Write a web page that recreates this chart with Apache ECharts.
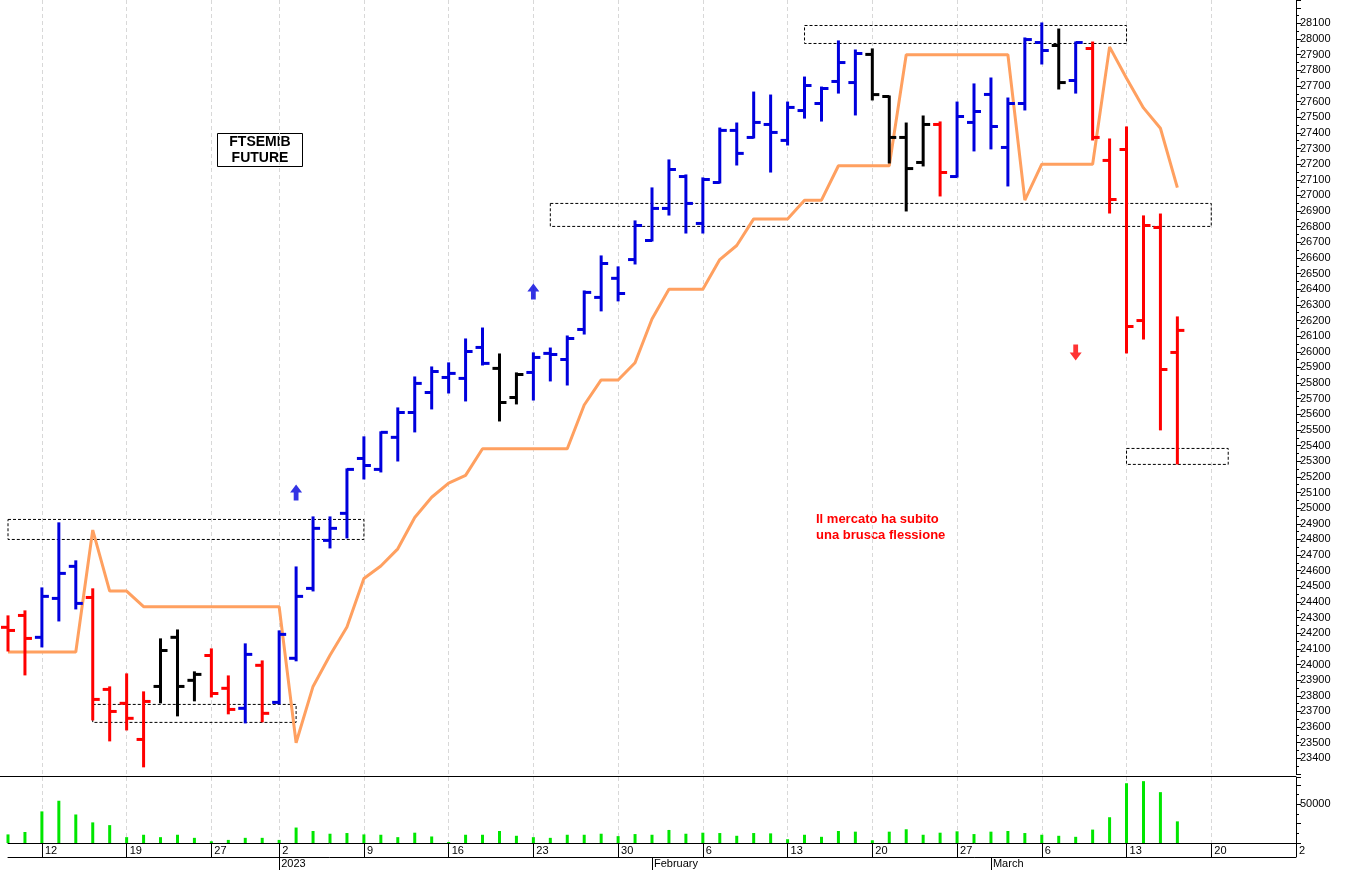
<!DOCTYPE html>
<html>
<head>
<meta charset="utf-8">
<script src="https://cdn.jsdelivr.net/npm/echarts@6/dist/echarts.min.js"></script>
<style>html,body{margin:0;padding:0;background:#fff}#chart{width:1352px;height:870px}</style>
</head>
<body>
<div id="chart"></div>
<script>
var dates = ['12-08','12-09','12-12','12-13','12-14','12-15','12-16','12-19','12-20','12-21','12-22','12-23','12-27','12-28','12-29','12-30',
  '01-02','01-03','01-04','01-05','01-06','01-09','01-10','01-11','01-12','01-13','01-16','01-17','01-18','01-19','01-20','01-23','01-24','01-25','01-26','01-27','01-30','01-31',
  '02-01','02-02','02-03','02-06','02-07','02-08','02-09','02-10','02-13','02-14','02-15','02-16','02-17','02-20','02-21','02-22','02-23','02-24','02-27','02-28',
  '03-01','03-02','03-03','03-06','03-07','03-08','03-09','03-10','03-13','03-14','03-15','03-16','03-17','03-20','03-21','03-22','03-23','03-24','03-27'];
var weekLabels = {'12-12':'12','12-19':'19','12-27':'27','01-02':'2','01-09':'9','01-16':'16','01-23':'23','01-30':'30',
  '02-06':'6','02-13':'13','02-20':'20','02-27':'27','03-06':'6','03-13':'13','03-20':'20','03-27':'2'};
var monthLabels = {'01-02':'2023','02-01':'February','03-01':'March'};

var opens  = [24238,24314,24174,24423,24628,24429,23841,23752,23521,23860,24174,23899,24058,23848,23720,23995,23758,24040,24487,24794,24967,25318,25248,25453,25612,25740,25836,25830,26028,25894,25708,25868,25990,25951,26143,26348,26470,26590,26712,26917,27121,26821,27083,27416,27371,27454,27352,27543,27588,27729,27722,27902,27633,27371,27211,27454,27121,27467,27646,27307,27588,27978,27959,27735,27940,27224,27294,26200,26795,25996];
var highs  = [24308,24340,24487,24903,24660,24481,23854,23937,23822,24161,24218,23950,24097,23924,24129,24020,24212,24621,24941,24941,25248,25453,25485,25638,25836,25900,25926,26079,26149,25983,25862,25990,26021,26098,26386,26610,26540,26834,27045,27224,27128,27109,27428,27460,27658,27639,27594,27754,27690,27985,27927,27934,27633,27460,27505,27467,27594,27710,27748,27620,28004,28100,28061,27978,27978,27358,27435,26866,26878,26220];
var lows   = [24090,23937,24116,24282,24359,23649,23515,23585,23349,23758,23675,23771,23796,23688,23630,23637,23752,24027,24474,24749,24813,25190,25235,25305,25491,25638,25740,25689,25919,25561,25670,25695,25817,25791,26117,26265,26329,26565,26712,26878,26763,26763,27083,27198,27371,27153,27326,27498,27479,27658,27518,27614,27211,26904,27192,27000,27121,27288,27301,27064,27550,27844,27684,27658,27358,26891,25996,26085,25504,25286];
var closes = [24218,24167,24436,24583,24391,23777,23700,23656,23764,24090,23860,23937,23815,23713,24065,23688,24193,24436,24871,24871,25248,25273,25485,25612,25798,25874,25862,26002,25926,25676,25855,25964,25983,26085,26380,26565,26373,26808,26917,27166,26949,27102,27416,27269,27467,27403,27563,27703,27684,27850,27908,27645,27371,27172,27454,27147,27505,27537,27441,27588,27997,27927,27722,27978,27371,26974,26162,26808,25887,26137];
var barColors = 'rrbbbrrrrkkkrrbrbbbbbbbbbbbbbkkbbbbbbbbbbbbbbbbbbbbkkkkrbbbbbbkbrrrrrr';
var stopLine = [24080,24080,24080,24080,24080,24860,24470,24470,24370,24370,24370,24370,24370,24370,24370,24370,24370,23500,23860,24060,24240,24550,24630,24740,24940,25070,25160,25210,25380,25380,25380,25380,25380,25380,25660,25820,25820,25930,26210,26400,26400,26400,26590,26680,26850,26850,26850,26970,26970,27190,27190,27190,27190,27900,27900,27900,27900,27900,27900,27900,26970,27200,27200,27200,27200,27950,27750,27560,27430,27050];
var volumes = [11062,14159,40708,54425,36726,26549,23009,7522,10619,7522,10619,6637,2212,3982,6637,6637,3982,19912,15487,11947,12832,11062,10619,7522,13274,8407,1327,10619,10619,15487,9292,7522,6637,10619,10619,11947,8850,11504,10619,16814,11947,13274,12832,9292,12832,12389,4867,10619,7965,15487,14602,3540,14602,17699,10619,13274,15044,11504,14602,15487,12832,10619,9292,7965,17257,33186,76991,79646,65487,27876];
var upArrows = [[17, 25100], [31, 26386]];
var downArrows = [[63, 25996]];

var colorMap = {r: '#ff0000', b: '#0000dd', k: '#000000'};
var ohlc = opens.map(function (o, i) { return [i, o, highs[i], lows[i], closes[i]]; });
var weekTick = function (i) { return !!weekLabels[dates[i]]; };
var monthTick = function (i) { return !!monthLabels[dates[i]]; };
var arrowPath = 'path://M5,0 L10,6 L7,6 L7,12 L3,12 L3,6 L0,6 Z';
var boxStyle = {color: 'rgba(0,0,0,0)', borderColor: '#000', borderWidth: 1, borderType: [3, 2]};
var font = '"Liberation Sans", Arial, sans-serif';

var myChart = echarts.init(document.getElementById('chart'));
var option = {
    animation: false,
    grid: [
        {left: 8, right: 56, top: 0, height: 774, show: false},
        {left: 8, right: 56, top: 777, bottom: 27, show: false}
    ],
    xAxis: [
        {gridIndex: 0, type: 'category', data: dates, boundaryGap: false, axisLine: {show: false}, axisTick: {show: false}, axisLabel: {show: false},
         splitLine: {show: true, interval: weekTick, lineStyle: {color: '#d8d8d8', type: [4, 3]}}},
        {gridIndex: 1, type: 'category', data: dates, boundaryGap: false, axisLine: {lineStyle: {color: '#000'}},
         axisTick: {show: true, interval: weekTick, length: 14, lineStyle: {color: '#000'}},
         splitLine: {show: true, interval: weekTick, lineStyle: {color: '#d8d8d8', type: [4, 3]}},
         axisLabel: {interval: weekTick, formatter: function (v) { return weekLabels[v] || ''; }, align: 'left', padding: [0, 0, 0, 3], margin: 2, fontSize: 11, color: '#000', fontFamily: font}},
        {gridIndex: 1, type: 'category', data: dates, boundaryGap: false, position: 'bottom', offset: 14, axisLine: {lineStyle: {color: '#000'}},
         axisTick: {show: true, interval: monthTick, length: 14, lineStyle: {color: '#000'}},
         axisLabel: {interval: monthTick, formatter: function (v) { return monthLabels[v] || ''; }, align: 'left', padding: [0, 0, 0, 2], margin: 1, fontSize: 11, color: '#000', fontFamily: font}}
    ],
    yAxis: [
        {gridIndex: 0, type: 'value', position: 'right', min: 23300, max: 28250, interval: 100,
         axisLine: {show: true, lineStyle: {color: '#000'}}, axisTick: {show: true, length: 5, lineStyle: {color: '#000'}},
         minorTick: {show: true, splitNumber: 2, length: 3, lineStyle: {color: '#000'}},
         splitLine: {show: false},
         axisLabel: {showMinLabel: false, formatter: function (v) { return v > 28100 ? '' : String(v); }, fontSize: 11, color: '#000', margin: 4, fontFamily: font}},
        {gridIndex: 1, type: 'value', position: 'right', min: 0, max: 85000, interval: 25000,
         axisLine: {show: true, lineStyle: {color: '#000'}}, axisTick: {show: true, length: 5, lineStyle: {color: '#000'}},
         minorTick: {show: true, splitNumber: 2, length: 3, lineStyle: {color: '#000'}},
         splitLine: {show: false},
         axisLabel: {formatter: function (v) { return v === 50000 ? '50000' : ''; }, fontSize: 11, color: '#000', margin: 4, fontFamily: font}}
    ],
    series: [
        {
            type: 'line', xAxisIndex: 0, yAxisIndex: 0, data: stopLine, symbol: 'none', z: 2,
            lineStyle: {color: '#ffa060', width: 3},
            markArea: {silent: true, itemStyle: boxStyle, data: [
                [{xAxis: 0, yAxis: 24928}, {xAxis: '01-09', yAxis: 24800}],
                [{xAxis: '12-15', yAxis: 23745}, {xAxis: '01-03', yAxis: 23630}],
                [{xAxis: '02-14', yAxis: 28087}, {xAxis: '03-13', yAxis: 27972}],
                [{xAxis: '01-24', yAxis: 26949}, {xAxis: '03-20', yAxis: 26802}],
                [{xAxis: '03-13', yAxis: 25382}, {xAxis: '03-21', yAxis: 25280}]
            ]}
        },
        {
            type: 'custom', xAxisIndex: 0, yAxisIndex: 0, data: ohlc, z: 5,
            renderItem: function (params, api) {
                var i = api.value(0);
                var pH = api.coord([i, api.value(2)]);
                var pL = api.coord([i, api.value(3)]);
                var pO = api.coord([i, api.value(1)]);
                var pC = api.coord([i, api.value(4)]);
                var st = {stroke: colorMap[barColors[params.dataIndex]], lineWidth: 3};
                return {type: 'group', children: [
                    {type: 'line', shape: {x1: pH[0], y1: pH[1] - 1, x2: pL[0], y2: pL[1] + 1}, style: st},
                    {type: 'line', shape: {x1: pO[0] - 7, y1: pO[1], x2: pO[0], y2: pO[1]}, style: st},
                    {type: 'line', shape: {x1: pC[0], y1: pC[1], x2: pC[0] + 7, y2: pC[1]}, style: st}
                ]};
            }
        },
        {type: 'scatter', xAxisIndex: 0, yAxisIndex: 0, data: upArrows, symbol: arrowPath, symbolSize: [12, 16], itemStyle: {color: '#0000dd'}},
        {type: 'scatter', xAxisIndex: 0, yAxisIndex: 0, data: downArrows, symbol: arrowPath, symbolRotate: 180, symbolSize: [12, 16], itemStyle: {color: '#ff0000'}},
        {type: 'bar', xAxisIndex: 1, yAxisIndex: 1, data: volumes, barWidth: 3, itemStyle: {color: '#00e600'}}
    ],
    graphic: [
        {type: 'line', shape: {x1: 0, y1: 776.5, x2: 1296, y2: 776.5}, style: {stroke: '#000', lineWidth: 1}},
        {type: 'rect', shape: {x: 217.5, y: 133.5, width: 85, height: 33}, style: {fill: '#fff', stroke: '#000', lineWidth: 1}},
        {type: 'text', x: 260, y: 134, style: {text: 'FTSEMIB\nFUTURE', font: 'bold 14px ' + font, fill: '#000', textAlign: 'center', lineHeight: 16}},
        {type: 'text', x: 816, y: 511, style: {text: 'Il mercato ha subito\nuna brusca flessione', font: 'bold 13px ' + font, fill: '#ff0000', lineHeight: 16}}
    ]
};
myChart.setOption(option);
</script>
</body>
</html>
